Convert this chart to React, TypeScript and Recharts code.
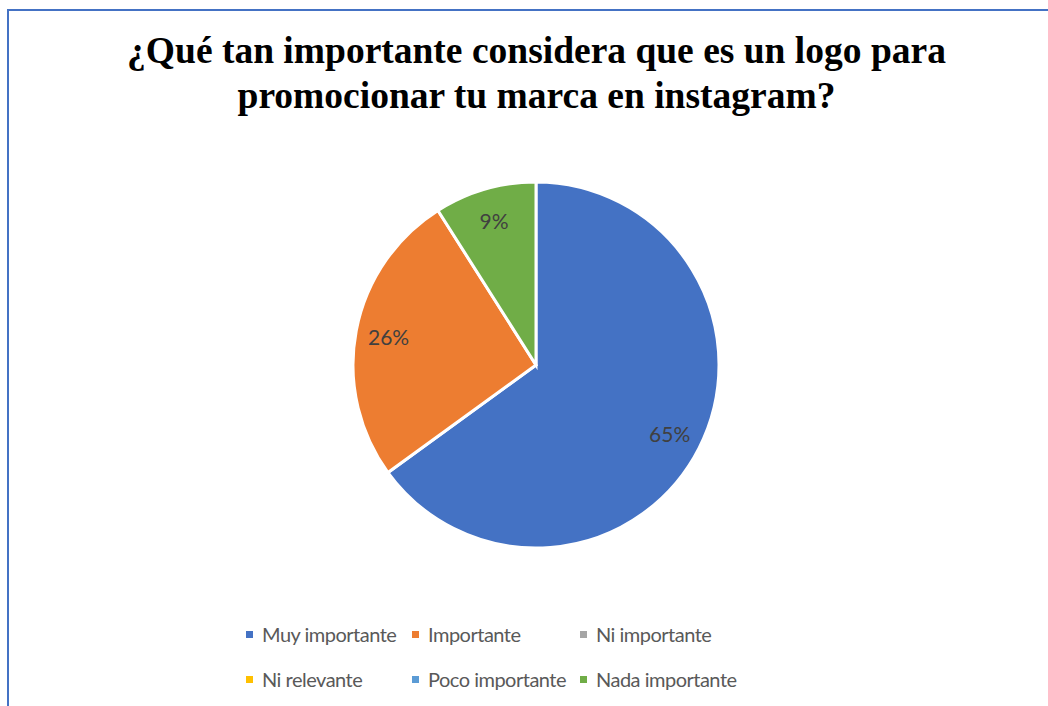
import React from "react";
import { PieChart, Pie, Cell, Legend } from "recharts";

const categories = [
  "Muy importante",
  "Importante",
  "Ni importante",
  "Ni relevante",
  "Poco importante",
  "Nada importante",
];
const shares = [65, 26, 0, 0, 0, 9];
const colors = ["#4472C4", "#ED7D31", "#A5A5A5", "#FFC000", "#5B9BD5", "#70AD47"];

const data = categories.map((name, i) => ({ name, value: shares[i] }));

const RAD = Math.PI / 180;

function renderLabel(props: any) {
  const { cx, cy, midAngle, outerRadius, value } = props;
  if (!value) return null;
  const r = outerRadius * 0.82;
  const x = cx + r * Math.cos(-midAngle * RAD);
  const y = cy + r * Math.sin(-midAngle * RAD);
  return (
    <text
      x={x}
      y={y}
      textAnchor="middle"
      dominantBaseline="central"
      fill="#404040"
      fontSize={21}
      fontFamily="Lato, 'Open Sans', sans-serif"
    >
      {value}%
    </text>
  );
}

// legend columns like the Excel layout: 3 per row
const colX = [246, 412, 580];
const rowY = [634, 679];

function LegendGrid() {
  return (
    <div style={{ position: "relative", width: 1048, height: 90 }}>
      {categories.map((name, i) => {
        const col = i % 3;
        const row = Math.floor(i / 3);
        return (
          <div
            key={name}
            style={{
              position: "absolute",
              left: colX[col],
              top: rowY[row] - 11,
              height: 22,
              display: "flex",
              alignItems: "center",
              fontFamily: "Lato, 'Open Sans', sans-serif",
              fontSize: 20,
              letterSpacing: -0.5,
              color: "#595959",
              whiteSpace: "nowrap",
            }}
          >
            <span
              style={{
                width: 7,
                height: 7,
                background: colors[i],
                display: "inline-block",
                marginRight: 9,
              }}
            />
            <span style={{ lineHeight: "22px" }}>{name}</span>
          </div>
        );
      })}
    </div>
  );
}

export default function App() {
  return (
    <div
      style={{
        position: "fixed",
        left: 0,
        top: 0,
        width: 1048,
        height: 706,
        overflow: "hidden",
        background: "#fff",
      }}
    >
      <div
        style={{
          position: "absolute",
          left: 7,
          top: 9,
          width: 1100,
          height: 800,
          border: "2px solid #4472C4",
        }}
      />
      <div
        style={{
          position: "absolute",
          left: 0,
          top: 28,
          width: 1073,
          textAlign: "center",
          fontFamily: "'Liberation Serif', 'Times New Roman', serif",
          fontWeight: "bold",
          fontSize: 37.5,
          lineHeight: "45px",
          color: "#000",
        }}
      >
        ¿Qué tan importante considera que es un logo para
        <br />
        promocionar tu marca en instagram?
      </div>
      <div style={{ position: "absolute", left: 0, top: 0 }}>
        <PieChart
          width={1048}
          height={706}
          margin={{ top: 0, right: 0, bottom: 0, left: 0 }}
        >
          <Pie
            data={data}
            dataKey="value"
            nameKey="name"
            cx={536}
            cy={365}
            outerRadius={183}
            startAngle={90}
            endAngle={-270}
            stroke="#fff"
            strokeWidth={3}
            label={renderLabel}
            labelLine={false}
            isAnimationActive={false}
          >
            {data.map((d, i) => (
              <Cell key={d.name} fill={colors[i]} />
            ))}
          </Pie>
          <Legend
            content={() => <LegendGrid />}
            wrapperStyle={{ position: "absolute", left: 0, top: 0, width: 1048 }}
          />
        </PieChart>
      </div>
    </div>
  );
}
